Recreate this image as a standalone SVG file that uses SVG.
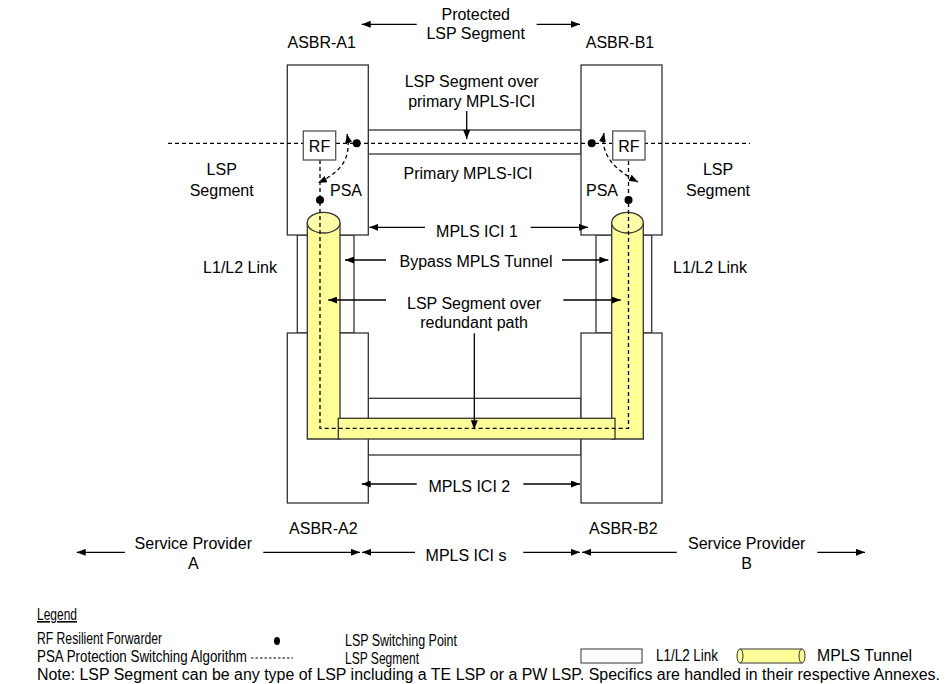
<svg xmlns="http://www.w3.org/2000/svg" width="945" height="684" viewBox="0 0 945 684">
<style>
text{font-family:"Liberation Sans",Arial,sans-serif;font-size:16px;fill:#000}
.c{text-anchor:middle}
.box{fill:#fff;stroke:#333;stroke-width:1.3}
.rf{fill:#fff;stroke:#555;stroke-width:1.3}
.tube{fill:#FFFF99;stroke:#333;stroke-width:1.3}
.top{fill:#FFFFAA;stroke:#333;stroke-width:1.3}
.dash{fill:none;stroke:#000;stroke-width:1.3;stroke-dasharray:4 3}
.arr{fill:none;stroke:#000;stroke-width:1.3;marker-end:url(#ah)}
.arr2{fill:none;stroke:#000;stroke-width:1.3;stroke-dasharray:4 3;marker-end:url(#ah);marker-start:url(#ah)}
.lg{font-size:16px}
</style>
<defs>
<marker id="ah" viewBox="0 0 9 7" refX="9" refY="3.5" markerWidth="9" markerHeight="7" markerUnits="userSpaceOnUse" orient="auto-start-reverse"><path d="M0,0 L9,3.5 L0,7 z" fill="#000"/></marker>
</defs>
<g id="links">
<rect id="link-primary" class="box" x="368.3" y="130" width="212.7" height="24"/>
<rect id="link-ici2" class="box" x="368.3" y="398.3" width="212.7" height="56.7"/>
<rect id="link-a" class="box" x="297.3" y="235" width="56.7" height="98"/>
<rect id="link-b" class="box" x="596" y="235" width="55.7" height="98"/>
</g>
<g id="asbr-a1"><rect class="box" x="287.3" y="65" width="81" height="170"/><text class="c" x="321.7" y="48">ASBR-A1</text></g>
<g id="asbr-b1"><rect class="box" x="581" y="65" width="81" height="170"/><text class="c" x="620" y="48">ASBR-B1</text></g>
<g id="asbr-a2"><rect class="box" x="287.3" y="333" width="81" height="170"/><text class="c" x="323.3" y="534">ASBR-A2</text></g>
<g id="asbr-b2"><rect class="box" x="581" y="333" width="81" height="170"/><text class="c" x="623.3" y="534">ASBR-B2</text></g>
<g id="tunnel">
<path class="tube" d="M307.3,222.7 V439 H340 V222.7"/>
<ellipse class="top" cx="323.65" cy="222.7" rx="16.35" ry="10.3"/>
<path class="tube" d="M611.7,222.7 V439 H643.3 V222.7"/>
<ellipse class="top" cx="627.5" cy="222.7" rx="15.8" ry="10.3"/>
<rect class="tube" x="338.3" y="418.3" width="276.7" height="20.7"/>
</g>
<g id="connectors">
<path class="dash" d="M168,143.3 H750"/>
<path class="dash" d="M320,160 V428.3 H628.5 V160"/>
<path class="arr2" d="M347,134 C351,155 345,170 318,183"/>
<path class="arr2" d="M604,133 C600,155 615,170 638,182"/>
<path class="arr" d="M416.7,24.3 H361.7"/>
<path class="arr" d="M536.7,24.3 H580"/>
<path class="arr" d="M466.7,111 V139"/>
<path class="arr" d="M425,227.3 H369.3"/>
<path class="arr" d="M530.7,227.3 H588"/>
<path class="arr" d="M386,260 H345"/>
<path class="arr" d="M562,260 H608.3"/>
<path class="arr" d="M386,300 H328.3"/>
<path class="arr" d="M563.3,300 H620.7"/>
<path class="arr" d="M474.3,333.3 V429.3"/>
<path class="arr" d="M416.7,484 H361.7"/>
<path class="arr" d="M523.3,484 H580"/>
<path class="arr" d="M125,552.3 H76.7"/>
<path class="arr" d="M263.3,552.3 H360"/>
<path class="arr" d="M415,552.3 H362"/>
<path class="arr" d="M523.3,552.3 H580"/>
<path class="arr" d="M676.7,552.3 H582"/>
<path class="arr" d="M817.3,552.3 H865"/>
</g>
<g id="rf-a"><rect class="rf" x="303.3" y="131" width="32.4" height="29"/><text class="c" x="319.5" y="151.5">RF</text></g>
<g id="rf-b"><rect class="rf" x="612.7" y="131" width="32.3" height="29"/><text class="c" x="628.8" y="151.5">RF</text></g>
<g id="points">
<circle cx="356.7" cy="143.3" r="4"/>
<circle cx="591.7" cy="143.3" r="4"/>
<circle cx="320" cy="200" r="4"/>
<circle cx="628.5" cy="200" r="4"/>
</g>
<g id="labels">
<text class="c" x="475.7" y="20">Protected</text>
<text class="c" x="475.7" y="39">LSP Segment</text>
<text class="c" x="471.7" y="87">LSP Segment over</text>
<text class="c" x="471.7" y="107">primary MPLS-ICI</text>
<text class="c" x="468" y="179">Primary MPLS-ICI</text>
<text class="c" x="221.7" y="175">LSP</text>
<text class="c" x="221.7" y="196">Segment</text>
<text class="c" x="718" y="175">LSP</text>
<text class="c" x="718" y="196">Segment</text>
<text class="c" x="346" y="196">PSA</text>
<text class="c" x="602" y="196">PSA</text>
<text class="c" x="477" y="236.5">MPLS ICI 1</text>
<text class="c" x="240" y="273">L1/L2 Link</text>
<text class="c" x="710" y="273">L1/L2 Link</text>
<text class="c" x="476" y="267">Bypass MPLS Tunnel</text>
<text class="c" x="474" y="309">LSP Segment over</text>
<text class="c" x="474" y="328">redundant path</text>
<text class="c" x="469.3" y="491.5">MPLS ICI 2</text>
<text class="c" x="193.3" y="549">Service Provider</text>
<text class="c" x="193.3" y="569">A</text>
<text class="c" x="746.7" y="549">Service Provider</text>
<text class="c" x="746.7" y="569">B</text>
<text class="c" x="466" y="561">MPLS ICI s</text>
</g>
<g id="legend">
<text class="lg" x="37" y="620" textLength="40" lengthAdjust="spacingAndGlyphs" text-decoration="underline">Legend</text>
<text class="lg" x="37" y="644" textLength="125" lengthAdjust="spacingAndGlyphs">RF Resilient Forwarder</text>
<text class="lg" x="37" y="662" textLength="210" lengthAdjust="spacingAndGlyphs">PSA Protection Switching Algorithm</text>
<path d="M251,658 H293" fill="none" stroke="#000" stroke-width="1" stroke-dasharray="2.5 2"/>
<ellipse cx="277" cy="641" rx="3" ry="4"/>
<text class="lg" x="345" y="646" textLength="112" lengthAdjust="spacingAndGlyphs">LSP Switching Point</text>
<text class="lg" x="345" y="664" textLength="74" lengthAdjust="spacingAndGlyphs">LSP Segment</text>
<rect x="581" y="649" width="61" height="14" fill="#fff" stroke="#333" stroke-width="1"/>
<text class="lg" x="656" y="661" textLength="62" lengthAdjust="spacingAndGlyphs">L1/L2 Link</text>
<rect x="740" y="649" width="62" height="14" fill="#FFFF99"/>
<path d="M740,649 H802 M740,663 H802" stroke="#333" stroke-width="1"/>
<ellipse cx="740" cy="656" rx="3" ry="7" fill="#FFFF99" stroke="#333" stroke-width="1"/>
<ellipse cx="802" cy="656" rx="3" ry="7" fill="#FFFF99" stroke="#333" stroke-width="1"/>
<text class="lg" x="817" y="661" textLength="95" lengthAdjust="spacingAndGlyphs">MPLS Tunnel</text>
<text x="37" y="680" font-size="17" textLength="903" lengthAdjust="spacingAndGlyphs">Note: LSP Segment can be any type of LSP including a TE LSP or a PW LSP. Specifics are handled in their respective Annexes.</text>
</g>
</svg>
